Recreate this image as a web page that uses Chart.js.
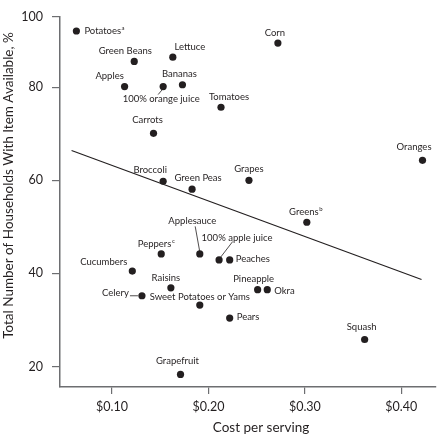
<!DOCTYPE html>
<html>
<head>
<meta charset="utf-8">
<script src="https://cdn.jsdelivr.net/npm/chart.js@4.4.1/dist/chart.umd.min.js"></script>
<style>
    html, body { margin: 0; padding: 0; background: #fff; }
    #wrap { width: 440px; height: 438px; }
</style>
</head>
<body>
<div id="wrap"><canvas id="myChart" width="440" height="438"></canvas></div>
<script>
    // values
    const foods = [
        'Potatoes', 'Green Beans', 'Lettuce', 'Apples', '100% orange juice', 'Bananas',
        'Carrots', 'Corn', 'Tomatoes', 'Oranges', 'Broccoli', 'Green Peas', 'Grapes',
        'Greens', 'Applesauce', 'Peppers', '100% apple juice', 'Peaches', 'Cucumbers',
        'Raisins', 'Pineapple', 'Okra', 'Celery', 'Sweet Potatoes or Yams', 'Pears',
        'Squash', 'Grapefruit'
    ];
    const costPerServing = [
        0.063, 0.123, 0.163, 0.113, 0.153, 0.173,
        0.143, 0.272, 0.213, 0.422, 0.153, 0.183, 0.242,
        0.302, 0.191, 0.151, 0.211, 0.222, 0.121,
        0.161, 0.251, 0.261, 0.131, 0.191, 0.222,
        0.362, 0.171
    ];
    const pctWithItem = [
        95.9, 87.3, 88.5, 80.2, 80.2, 80.7,
        70.1, 92.5, 75.7, 64.3, 59.8, 58.1, 60.0,
        51.0, 44.2, 44.2, 42.9, 42.9, 40.5,
        36.9, 36.5, 36.5, 35.2, 33.2, 30.4,
        25.8, 18.3
    ];
    const footnotes = { 'Potatoes': 'a', 'Greens': 'b', 'Peppers': 'c' };

    const trendCost = [0.058, 0.421];
    const trendPct = [66.4, 38.7];

    const xTicks = [0.10, 0.20, 0.30, 0.40];
    const yTicks = [20, 40, 60, 80, 100];

    // label offsets from the dot (px), leader lines as [x1, y1, x2, y2]
    const labelPlacement = {
        'Potatoes': { dx: 8, dy: 0, align: 'left' },
        'Green Beans': { dx: -9, dy: -10, align: 'center' },
        'Lettuce': { dx: 17, dy: -10, align: 'center' },
        'Apples': { dx: -15, dy: -11, align: 'center' },
        '100% orange juice': { dx: -2, dy: 12.5, align: 'center', leader: [0, 2, -5, 8] },
        'Bananas': { dx: -3, dy: -11, align: 'center' },
        'Carrots': { dx: -6, dy: -13, align: 'center' },
        'Corn': { dx: -3, dy: -10, align: 'center' },
        'Tomatoes': { dx: 8, dy: -10, align: 'center' },
        'Oranges': { dx: 9, dy: -13.5, align: 'right' },
        'Broccoli': { dx: -13, dy: -11, align: 'center' },
        'Green Peas': { dx: 6, dy: -11, align: 'center' },
        'Grapes': { dx: 0, dy: -11, align: 'center' },
        'Greens': { dx: -1, dy: -10, align: 'center' },
        'Applesauce': { dx: -7.5, dy: -33, align: 'center', leader: [-4.6, -27.5, 0, -2] },
        'Peppers': { dx: -5, dy: -9.5, align: 'center' },
        '100% apple juice': { dx: 18, dy: -22, align: 'center', leader: [1, -2, 13.6, -18.4] },
        'Peaches': { dx: 6, dy: -1, align: 'left' },
        'Cucumbers': { dx: -5, dy: -9, align: 'right' },
        'Raisins': { dx: -5, dy: -10, align: 'center' },
        'Pineapple': { dx: -4, dy: -11, align: 'center' },
        'Okra': { dx: 7, dy: 1.5, align: 'left' },
        'Celery': { dx: -13, dy: -3, align: 'right', leader: [-12, 0, -4, 0] },
        'Sweet Potatoes or Yams': { dx: 0, dy: -8, align: 'center' },
        'Pears': { dx: 7, dy: -1, align: 'left' },
        'Squash': { dx: -3, dy: -13, align: 'center' },
        'Grapefruit': { dx: -3, dy: -13, align: 'center' }
    };

    const INK = '#231f20';
    const AXIS = '#6d6e71';
    const FONT = 'Lato';

    // the printed y axis squeezes the 80-100 band
    const Y_BREAK = 80;
    const Y_SQUEEZE = 0.76;
    function warp(v) { return v <= Y_BREAK ? v : Y_BREAK + (v - Y_BREAK) * Y_SQUEEZE; }
    function unwarp(w) { return w <= Y_BREAK ? w : Y_BREAK + (w - Y_BREAK) / Y_SQUEEZE; }

    class SqueezedScale extends Chart.LinearScale {
        getPixelForValue(value) {
            if (value === null || value === undefined || isNaN(value)) return NaN;
            const lo = warp(this.min), hi = warp(this.max);
            return this.getPixelForDecimal((warp(value) - lo) / (hi - lo));
        }
        getValueForPixel(pixel) {
            const lo = warp(this.min), hi = warp(this.max);
            return unwarp(lo + this.getDecimalForPixel(pixel) * (hi - lo));
        }
    }
    SqueezedScale.id = 'squeezed';
    SqueezedScale.defaults = Chart.LinearScale.defaults;
    Chart.register(SqueezedScale);

    const pointLabels = {
        id: 'pointLabels',
        afterDatasetsDraw(chart) {
            const ctx = chart.ctx;
            const meta = chart.getDatasetMeta(0);
            ctx.save();
            ctx.fillStyle = INK;
            ctx.strokeStyle = INK;
            ctx.lineWidth = 0.8;
            ctx.textBaseline = 'middle';
            meta.data.forEach((pt, i) => {
                const name = foods[i];
                const p = labelPlacement[name];
                if (!p) return;
                ctx.font = '9.5px ' + FONT;
                const w = ctx.measureText(name).width;
                const sup = footnotes[name];
                ctx.font = '6px ' + FONT;
                const sw = sup ? ctx.measureText(sup).width + 0.5 : 0;
                const total = w + sw;
                let x0 = pt.x + p.dx;
                if (p.align === 'center') x0 -= total / 2;
                else if (p.align === 'right') x0 -= total;
                const y = pt.y + p.dy;
                ctx.textAlign = 'left';
                ctx.font = '9.5px ' + FONT;
                ctx.fillText(name, x0, y);
                if (sup) {
                    ctx.font = '6px ' + FONT;
                    ctx.fillText(sup, x0 + w + 0.5, y - 3);
                }
                if (p.leader) {
                    const l = p.leader;
                    ctx.beginPath();
                    ctx.moveTo(pt.x + l[0], pt.y + l[1]);
                    ctx.lineTo(pt.x + l[2], pt.y + l[3]);
                    ctx.stroke();
                }
            });
            ctx.restore();
        }
    };

    const axisTitles = {
        id: 'axisTitles',
        afterDraw(chart) {
            const ctx = chart.ctx;
            const area = chart.chartArea;
            ctx.save();
            ctx.fillStyle = INK;
            ctx.font = '13.5px ' + FONT;
            ctx.textAlign = 'center';
            ctx.textBaseline = 'middle';
            ctx.fillText('Cost per serving', area.left + 201, chart.height - 10);
            ctx.translate(9, area.top + 169);
            ctx.rotate(-Math.PI / 2);
            ctx.fillText('Total Number of Households With Item Available, %', 0, 0);
            ctx.restore();
        }
    };

    const scatterData = foods.map((f, i) => ({ x: costPerServing[i], y: pctWithItem[i] }));
    const trendData = trendCost.map((c, i) => ({ x: c, y: trendPct[i] }));

    new Chart(document.getElementById('myChart').getContext('2d'), {
        type: 'scatter',
        data: {
            datasets: [{
                label: 'Foods',
                data: scatterData,
                pointRadius: 3.6,
                pointBackgroundColor: INK,
                pointBorderWidth: 0,
                order: 1
            }, {
                type: 'line',
                label: 'Trend',
                data: trendData,
                borderColor: INK,
                borderWidth: 1.2,
                pointRadius: 0,
                fill: false,
                order: 2
            }]
        },
        options: {
            responsive: false,
            animation: false,
            devicePixelRatio: 1,
            layout: { padding: { top: 7, right: 0, bottom: 0, left: 0 } },
            plugins: {
                legend: { display: false },
                tooltip: { enabled: false }
            },
            scales: {
                x: {
                    type: 'linear',
                    min: 0.046,
                    max: 0.436,
                    afterBuildTicks: s => { s.ticks = xTicks.map(v => ({ value: v })); },
                    afterFit: s => { s.height = 51; },
                    ticks: {
                        callback: v => '$' + Number(v).toFixed(2),
                        font: { family: FONT, size: 12.5 },
                        color: INK,
                        padding: 5,
                        maxRotation: 0
                    },
                    grid: { drawOnChartArea: false, color: AXIS, lineWidth: 1.2, tickLength: 7 },
                    border: { color: AXIS, width: 1.5 }
                },
                y: {
                    type: 'squeezed',
                    min: 15.6,
                    max: 100,
                    afterBuildTicks: s => { s.ticks = yTicks.map(v => ({ value: v })); },
                    afterFit: s => { s.width = 60; },
                    ticks: {
                        callback: v => String(v),
                        font: { family: FONT, size: 12.5 },
                        color: INK,
                        padding: 9
                    },
                    grid: { drawOnChartArea: false, color: AXIS, lineWidth: 1.2, tickLength: 8 },
                    border: { color: AXIS, width: 1.5 }
                }
            }
        },
        plugins: [pointLabels, axisTitles]
    });
</script>
</body>
</html>
